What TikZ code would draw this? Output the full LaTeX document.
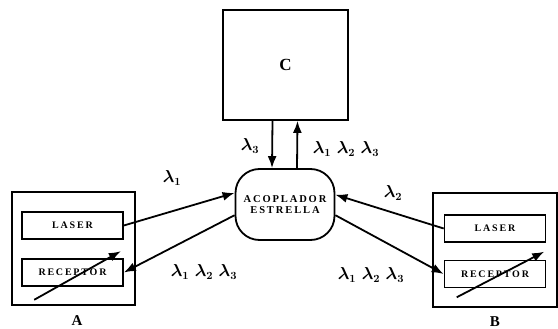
\documentclass[tikz,border=0pt]{standalone}
\usepackage{fontspec}
\setmainfont{Liberation Serif}
\newfontfamily\espaciada[LetterSpace=18]{Liberation Serif}
\usetikzlibrary{arrows.meta}
\begin{document}
\begin{tikzpicture}[x=1pt,y=-1pt,
  bloque/.style={draw,line width=1.8pt,inner sep=0pt},
  caja/.style={draw,line width=1.6pt,minimum width=101pt,minimum height=27pt,inner sep=0pt,font=\espaciada\bfseries\fontsize{10}{11}\selectfont},
  flecha/.style={-{Latex[length=12pt,width=9pt]},line width=1.8pt},
  lam/.style={font=\fontsize{16}{18}\selectfont\boldmath}]
  \useasboundingbox (0,0) rectangle (558,329);
  % estacion C y acoplador
  \node (C) at (285.5,65) [bloque,minimum width=125pt,minimum height=110pt,font=\bfseries\fontsize{17}{18}\selectfont] {C};
  \node (acop) at (285,204.5) [bloque,rounded corners=24pt,minimum width=99pt,minimum height=71pt,align=center,font=\espaciada\bfseries\fontsize{10.5}{11}\selectfont] {ACOPLADOR\\ESTRELLA};
  \draw[flecha] ([xshift=-13pt]C.south) -- ([xshift=-13pt]acop.north);
  \draw[flecha] ([xshift=12pt]acop.north) -- ([xshift=12pt]C.south);
  \node (l3C) at (250,146) [lam] {$\lambda_3$};
  \node (l123C) at (346,149) [lam] {$\lambda_1\;\lambda_2\;\lambda_3$};
  % estacion A
  \node (A) at (73.5,248.5) [bloque,minimum width=123pt,minimum height=113pt] {};
  \node (laserA) at (72.5,225.5) [caja] {LASER};
  \node (recA) at (72.5,272.5) [caja] {RECEPTOR};
  \node (labA) at (77,321) [font=\bfseries\fontsize{15}{16}\selectfont] {A};
  \draw[flecha] (laserA.east) -- (acop.167);
  \draw[flecha] (acop.192) -- (recA.east);
  \draw[flecha] ([shift={(13,13)}]recA.south west) -- ([shift={(-3,-7)}]recA.north east);
  \node (l1) at (172,178) [lam] {$\lambda_1$};
  \node (l123A) at (204,272) [lam] {$\lambda_1\;\lambda_2\;\lambda_3$};
  % estacion B
  \node (B) at (495,250) [bloque,minimum width=124pt,minimum height=114pt] {};
  \node (laserB) at (495,228.5) [caja] {LASER};
  \node (recB) at (495,274) [caja] {RECEPTOR};
  \node (labB) at (495,322) [font=\bfseries\fontsize{15}{16}\selectfont] {B};
  \draw[flecha] (laserB.west) -- (acop.11);
  \draw[flecha] (acop.-12) -- (recB.west);
  \draw[flecha] ([shift={(13,9)}]recB.south west) -- ([shift={(-2,-8)}]recB.north east);
  \node (l2) at (393,193) [lam] {$\lambda_2$};
  \node (l123B) at (371,275) [lam] {$\lambda_1\;\lambda_2\;\lambda_3$};
\end{tikzpicture}
\end{document}
